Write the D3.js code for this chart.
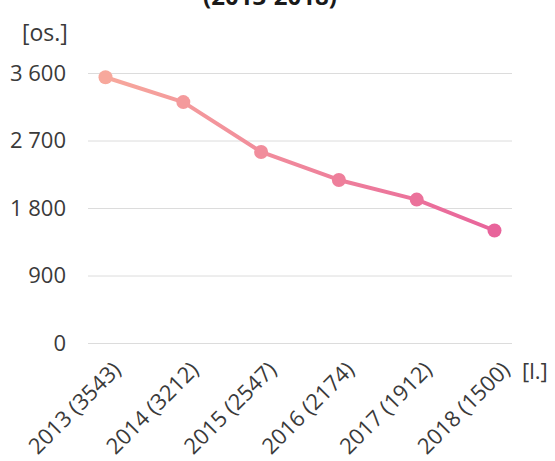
<!DOCTYPE html>
<html>
<head>
<meta charset="utf-8">
<script src="https://cdn.jsdelivr.net/npm/d3@7"></script>
<style>
  html, body { margin: 0; padding: 0; background: #fff; }
  svg { display: block; }
</style>
</head>
<body>
<svg id="chart" width="555" height="461"></svg>
<script>
const years = ["2013", "2014", "2015", "2016", "2017", "2018"];
const values = [3543, 3212, 2547, 2174, 1912, 1500];
const yTicks = [0, 900, 1800, 2700, 3600];
const titleText = "(2013-2018)";
const yUnit = "[os.]";
const xUnit = "[l.]";

const svg = d3.select("#chart");
const fmt = v => d3.format(",")(v).replace(/,/g, " ");
const FONT = "'Open Sans', sans-serif";

const x = d3.scalePoint().domain(years).range([88, 512]).padding(0.225);
const y = d3.scaleLinear().domain([0, 3600]).range([343, 73]);

// title (cut off at top, as in the reference)
svg.append("text")
  .attr("x", 270).attr("y", 5)
  .attr("text-anchor", "middle")
  .attr("font-family", FONT)
  .attr("font-weight", "bold")
  .attr("font-size", 24)
  .attr("fill", "#1a1a1a")
  .text(titleText);

// gridlines + y tick labels
const yAxis = d3.axisLeft(y).tickValues(yTicks).tickSize(-(512 - 88)).tickFormat(fmt).tickPadding(22);
const gy = svg.append("g").attr("transform", "translate(88,0)").call(yAxis);
gy.select(".domain").remove();
gy.selectAll(".tick line").attr("stroke", "#dcdcdc").attr("stroke-width", 1);
gy.selectAll(".tick text")
  .attr("font-family", FONT)
  .attr("font-size", 22)
  .attr("fill", "#3a3a3a");

// x labels
const xAxis = d3.axisBottom(x).tickSize(0).tickFormat((d, i) => `${d} (${values[i]})`);
const gx = svg.append("g").attr("transform", "translate(0,343)").call(xAxis);
gx.select(".domain").remove();
gx.selectAll(".tick text")
  .attr("font-family", FONT)
  .attr("font-size", 22)
  .attr("fill", "#3a3a3a")
  .attr("text-anchor", "end")
  .attr("dy", 0)
  .attr("transform", "translate(14,26) rotate(-45)");

// units
svg.append("text").attr("x", 22).attr("y", 41)
  .attr("font-family", FONT)
  .attr("font-size", 23).attr("fill", "#3a3a3a").text(yUnit);
svg.append("text").attr("x", 522).attr("y", 379)
  .attr("font-family", FONT)
  .attr("font-size", 22).attr("fill", "#3a3a3a").text(xUnit);

// gradient
const defs = svg.append("defs");
const grad = defs.append("linearGradient").attr("id", "lineGrad")
  .attr("gradientUnits", "userSpaceOnUse")
  .attr("x1", x(years[0])).attr("x2", x(years[years.length - 1]))
  .attr("y1", 0).attr("y2", 0);
grad.append("stop").attr("offset", "0%").attr("stop-color", "#f7a89c");
grad.append("stop").attr("offset", "100%").attr("stop-color", "#e8649b");

const pts = years.map((d, i) => ({ year: d, value: values[i] }));
const line = d3.line().x(d => x(d.year)).y(d => y(d.value));

svg.append("path").datum(pts)
  .attr("d", line)
  .attr("fill", "none")
  .attr("stroke", "url(#lineGrad)")
  .attr("stroke-width", 4)
  .attr("stroke-linejoin", "round");

const col = d3.interpolateRgb("#f7a89c", "#e8649b");
svg.append("g").selectAll("circle").data(pts).join("circle")
  .attr("cx", d => x(d.year))
  .attr("cy", d => y(d.value))
  .attr("r", 7)
  .attr("fill", (d, i) => col(i / (pts.length - 1)));
</script>
</body>
</html>
